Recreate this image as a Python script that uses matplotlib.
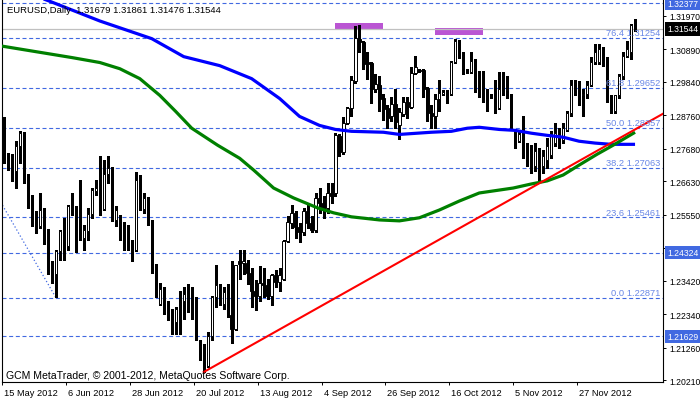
#!/usr/bin/env python3
"""
EURUSD daily chart, MetaTrader style
Candles, two moving averages, trendline and Fibonacci levels
"""

import numpy as np
import matplotlib
matplotlib.use("Agg")
import matplotlib.pyplot as plt
from matplotlib.patches import Rectangle
from matplotlib.transforms import blended_transform_factory, ScaledTranslation

# Header values
symbol = "EURUSD,Daily"
last_ohlc = [1.31679, 1.31861, 1.31476, 1.31544]

# Daily candles, one per trading day from 15 May 2012
opens = [
    1.2824, 1.2728, 1.2715, 1.2696, 1.2776, 1.2818, 1.2683, 1.2583, 1.2535, 1.2519,
    1.2570, 1.2506, 1.2371, 1.2365, 1.2439, 1.2503, 1.2455, 1.2583, 1.2561, 1.2641,
    1.2481, 1.2503, 1.2558, 1.2631, 1.2696, 1.2574, 1.2686, 1.2705, 1.2538, 1.2551,
    1.2506, 1.2493, 1.2471, 1.2442, 1.2680, 1.2574, 1.2609, 1.2532, 1.2394, 1.2266,
    1.2314, 1.2266, 1.2246, 1.2208, 1.2278, 1.2278, 1.2298, 1.2294, 1.2285, 1.2128,
    1.2128, 1.2067, 1.2163, 1.2288, 1.2310, 1.2266, 1.2310, 1.2230, 1.2185, 1.2407,
    1.2400, 1.2400, 1.2368, 1.2310, 1.2294, 1.2336, 1.2327, 1.2294, 1.2359, 1.2339,
    1.2346, 1.2471, 1.2529, 1.2561, 1.2516, 1.2500, 1.2567, 1.2529, 1.2506, 1.2609,
    1.2593, 1.2577, 1.2625, 1.2625, 1.2808, 1.2757, 1.2850, 1.2898, 1.2985, 1.3123,
    1.3113, 1.3049, 1.3046, 1.2962, 1.2972, 1.2930, 1.2898, 1.2872, 1.2911, 1.2843,
    1.2879, 1.2917, 1.2901, 1.3013, 1.3023, 1.3023, 1.2965, 1.2882, 1.2875, 1.2927,
    1.2943, 1.2952, 1.2943, 1.3049, 1.3116, 1.3062, 1.3020, 1.3017, 1.3052, 1.2985,
    1.2972, 1.2936, 1.2940, 1.2936, 1.2898, 1.2959, 1.2956, 1.2940, 1.2827, 1.2792,
    1.2818, 1.2770, 1.2747, 1.2712, 1.2744, 1.2712, 1.2731, 1.2747, 1.2786, 1.2818,
    1.2795, 1.2827, 1.2882, 1.2972, 1.2969, 1.2940, 1.2946, 1.2972, 1.3049, 1.3049,
    1.3091, 1.3062, 1.2940, 1.2888, 1.2940, 1.3001, 1.3068, 1.3081, 1.31679,
]
highs = [
    1.2869, 1.2753, 1.2750, 1.2792, 1.2824, 1.2822, 1.2685, 1.2619, 1.2567, 1.2625,
    1.2577, 1.2508, 1.2407, 1.2442, 1.2506, 1.2545, 1.2587, 1.2625, 1.2583, 1.2667,
    1.2522, 1.2577, 1.2641, 1.2667, 1.2744, 1.2731, 1.2744, 1.2708, 1.2583, 1.2555,
    1.2532, 1.2522, 1.2474, 1.2692, 1.2683, 1.2625, 1.2612, 1.2538, 1.2396, 1.2333,
    1.2320, 1.2278, 1.2249, 1.2256, 1.2310, 1.2320, 1.2330, 1.2320, 1.2288, 1.2150,
    1.2137, 1.2176, 1.2294, 1.2394, 1.2330, 1.2320, 1.2330, 1.2407, 1.2394, 1.2442,
    1.2442, 1.2410, 1.2384, 1.2343, 1.2388, 1.2384, 1.2346, 1.2362, 1.2375, 1.2384,
    1.2474, 1.2551, 1.2587, 1.2567, 1.2529, 1.2577, 1.2587, 1.2551, 1.2625, 1.2641,
    1.2615, 1.2657, 1.2657, 1.2818, 1.2814, 1.2869, 1.2901, 1.3001, 1.3164, 1.3168,
    1.3116, 1.3081, 1.3049, 1.3010, 1.3004, 1.2946, 1.2908, 1.2936, 1.2962, 1.2898,
    1.2936, 1.2936, 1.3030, 1.3068, 1.3026, 1.3025, 1.2967, 1.2908, 1.2946, 1.2988,
    1.2956, 1.2956, 1.3052, 1.3123, 1.3120, 1.3081, 1.3026, 1.3081, 1.3058, 1.3020,
    1.3020, 1.2962, 1.2946, 1.2988, 1.3017, 1.3017, 1.3004, 1.2946, 1.2830, 1.2824,
    1.2875, 1.2786, 1.2779, 1.2786, 1.2770, 1.2763, 1.2802, 1.2824, 1.2850, 1.2834,
    1.2850, 1.2888, 1.2988, 1.2988, 1.2985, 1.2962, 1.2985, 1.3065, 1.3107, 1.3107,
    1.3097, 1.3064, 1.2942, 1.2940, 1.3010, 1.3081, 1.3116, 1.3171, 1.31861,
]
lows = [
    1.2721, 1.2699, 1.2664, 1.2641, 1.2721, 1.2657, 1.2577, 1.2519, 1.2497, 1.2513,
    1.2461, 1.2362, 1.2336, 1.2288, 1.2410, 1.2410, 1.2442, 1.2555, 1.2436, 1.2474,
    1.2442, 1.2474, 1.2545, 1.2619, 1.2555, 1.2570, 1.2657, 1.2535, 1.2519, 1.2474,
    1.2442, 1.2442, 1.2407, 1.2439, 1.2570, 1.2561, 1.2522, 1.2368, 1.2288, 1.2262,
    1.2233, 1.2214, 1.2169, 1.2169, 1.2169, 1.2217, 1.2240, 1.2217, 1.2150, 1.2086,
    1.2047, 1.2063, 1.2150, 1.2256, 1.2262, 1.2249, 1.2224, 1.2140, 1.2182, 1.2346,
    1.2362, 1.2330, 1.2256, 1.2246, 1.2278, 1.2288, 1.2282, 1.2262, 1.2320, 1.2310,
    1.2343, 1.2468, 1.2513, 1.2481, 1.2468, 1.2490, 1.2513, 1.2500, 1.2500, 1.2561,
    1.2545, 1.2561, 1.2593, 1.2615, 1.2744, 1.2750, 1.2847, 1.2872, 1.2981, 1.3081,
    1.3026, 1.2994, 1.2914, 1.2952, 1.2891, 1.2859, 1.2834, 1.2856, 1.2834, 1.2798,
    1.2875, 1.2866, 1.2898, 1.3010, 1.3017, 1.2936, 1.2856, 1.2834, 1.2834, 1.2888,
    1.2940, 1.2914, 1.2940, 1.3046, 1.3062, 1.3010, 1.3013, 1.3013, 1.2952, 1.2936,
    1.2917, 1.2891, 1.2930, 1.2882, 1.2895, 1.2940, 1.2930, 1.2827, 1.2770, 1.2789,
    1.2737, 1.2712, 1.2689, 1.2696, 1.2667, 1.2689, 1.2705, 1.2737, 1.2776, 1.2770,
    1.2786, 1.2824, 1.2875, 1.2940, 1.2908, 1.2875, 1.2930, 1.2969, 1.3042, 1.3042,
    1.3036, 1.2920, 1.2882, 1.2882, 1.2930, 1.2994, 1.3065, 1.3058, 1.31476,
]
closes = [
    1.2728, 1.2712, 1.2696, 1.2776, 1.2818, 1.2680, 1.2583, 1.2535, 1.2519, 1.2570,
    1.2503, 1.2368, 1.2362, 1.2439, 1.2503, 1.2455, 1.2583, 1.2561, 1.2519, 1.2481,
    1.2506, 1.2558, 1.2635, 1.2641, 1.2574, 1.2686, 1.2705, 1.2545, 1.2570, 1.2506,
    1.2490, 1.2471, 1.2442, 1.2667, 1.2574, 1.2609, 1.2526, 1.2394, 1.2291, 1.2314,
    1.2266, 1.2249, 1.2208, 1.2249, 1.2272, 1.2298, 1.2288, 1.2285, 1.2163, 1.2121,
    1.2063, 1.2163, 1.2288, 1.2327, 1.2266, 1.2304, 1.2230, 1.2185, 1.2391, 1.2397,
    1.2404, 1.2368, 1.2310, 1.2294, 1.2336, 1.2327, 1.2294, 1.2359, 1.2339, 1.2359,
    1.2471, 1.2532, 1.2561, 1.2516, 1.2500, 1.2567, 1.2529, 1.2506, 1.2609, 1.2593,
    1.2577, 1.2625, 1.2615, 1.2811, 1.2757, 1.2850, 1.2898, 1.2988, 1.3126, 1.3113,
    1.3042, 1.3042, 1.2962, 1.2978, 1.2927, 1.2895, 1.2866, 1.2911, 1.2853, 1.2885,
    1.2917, 1.2901, 1.3013, 1.3030, 1.3020, 1.2962, 1.2882, 1.2875, 1.2927, 1.2949,
    1.2952, 1.2949, 1.3049, 1.3116, 1.3065, 1.3017, 1.3017, 1.3052, 1.2981, 1.2972,
    1.2930, 1.2933, 1.2936, 1.2898, 1.2959, 1.2956, 1.2962, 1.2834, 1.2792, 1.2814,
    1.2763, 1.2744, 1.2712, 1.2760, 1.2721, 1.2744, 1.2776, 1.2811, 1.2818, 1.2795,
    1.2834, 1.2882, 1.2972, 1.2965, 1.2940, 1.2946, 1.2972, 1.3049, 1.3081, 1.3091,
    1.3058, 1.2940, 1.2920, 1.2940, 1.3004, 1.3068, 1.3091, 1.3166, 1.31544,
]

# Moving averages, read at a few bars (bar index, price)
ma_slow_bars = [0, 12, 24, 37, 45, 54, 62, 69, 74, 79, 83, 87, 95, 99, 107, 112,
                116, 119, 124, 128, 132, 136, 140, 144, 148, 152, 158]
ma_slow_vals = [1.3299, 1.3241, 1.3180, 1.3123, 1.3065, 1.3036, 1.2994, 1.2930,
                1.2872, 1.2843, 1.2830, 1.2824, 1.2821, 1.2814, 1.2821, 1.2824,
                1.2834, 1.2837, 1.2830, 1.2827, 1.2818, 1.2811, 1.2805, 1.2792,
                1.2786, 1.2782, 1.2782]
ma_fast_bars = [-1, 17, 24, 29, 34, 39, 43, 47, 53.5, 59, 62.5, 67.5, 72.5, 78.5,
                82.5, 87, 94, 99, 104, 109, 114, 119, 127.5, 132, 136, 140, 144,
                148.5, 152.5, 158]
ma_fast_vals = [1.3100, 1.3062, 1.3046, 1.3026, 1.2994, 1.2940, 1.2888, 1.2834,
                1.2779, 1.2737, 1.2699, 1.2641, 1.2609, 1.2577, 1.2561, 1.2548,
                1.2538, 1.2535, 1.2545, 1.2570, 1.2599, 1.2625, 1.2641, 1.2654,
                1.2664, 1.2683, 1.2715, 1.2750, 1.2779, 1.2821]

# Trendline anchors (bar, price), drawn as a ray to the right
trend_bars = [50, 150]
trend_vals = [1.2047, 1.2772]

# Fibonacci retracement
fib_anchor_bars = [-36.2, 13]
fib_anchor_vals = [1.33846, 1.22871]
fib_levels = [0.0, 23.6, 38.2, 50.0, 61.8, 76.4]
fib_prices = [1.22871, 1.25461, 1.27063, 1.28357, 1.29652, 1.31254]

# Horizontal lines and the current bid
hline_prices = [1.32377, 1.24324, 1.21629]
bid_price = 1.31544

# Rectangles marking the two tops (bar from, bar to, price low, price high)
rect_bar_from = [83, 108]
rect_bar_to = [95, 120]
rect_low = [1.3152, 1.3136]
rect_high = [1.3174, 1.3158]

# Axis labels
price_ticks = [1.31970, 1.30890, 1.29840, 1.28760, 1.27680, 1.26630,
               1.25550, 1.24470, 1.23420, 1.22340, 1.21260, 1.20210]
date_bars = [0, 16, 32, 48, 64, 80, 96, 112, 128, 144]
date_labels = ["15 May 2012", "6 Jun 2012", "28 Jun 2012", "20 Jul 2012",
               "13 Aug 2012", "4 Sep 2012", "26 Sep 2012", "16 Oct 2012",
               "5 Nov 2012", "27 Nov 2012"]

LINE_BLUE = "#4169E1"
FIB_TEXT = "#6a88e6"
FONT = "Liberation Sans"


def draw_candles(ax):
    o = np.array(opens)
    h = np.array(highs)
    l = np.array(lows)
    c = np.array(closes)
    idx = np.arange(len(o))
    up = c >= o

    # Wicks, crisp like the terminal draws them
    ax.vlines(idx, l, h, color="black", lw=0.75, zorder=3, antialiased=False)

    bottom = np.minimum(o, c)
    height = np.maximum(np.abs(c - o), 0.00002)
    ax.bar(idx[up], height[up], bottom=bottom[up], width=0.58,
           facecolor="white", edgecolor="black", lw=0.7, zorder=4)
    ax.bar(idx[~up], height[~up], bottom=bottom[~up], width=0.58,
           facecolor="black", edgecolor="black", lw=0.7, zorder=4)


def draw_objects(ax, x_max):
    right = blended_transform_factory(ax.transAxes, ax.transData)
    dash = (0, (3.6, 2.4))

    # Fibonacci levels
    for lvl, p in zip(fib_levels, fib_prices):
        ax.axhline(p, color=LINE_BLUE, lw=0.8, ls=dash, zorder=2)
        ax.text(1 - 3 / 661, p + 0.0002, f"{lvl:.1f} {p:.5f}", transform=right,
                ha="right", va="bottom", fontsize=6.7, color=FIB_TEXT,
                family=FONT, zorder=6)
    ax.plot(fib_anchor_bars, fib_anchor_vals, color=LINE_BLUE, lw=0.9,
            ls=(0, (1, 1.8)), zorder=2)

    # User horizontal lines
    for p in hline_prices:
        ax.axhline(p, color=LINE_BLUE, lw=0.8, ls=dash, zorder=2)

    # Bid line
    ax.axhline(bid_price, color="#c0c0c0", lw=0.9, zorder=2.5)

    # Rectangles
    for b0, b1, lo, hi in zip(rect_bar_from, rect_bar_to, rect_low, rect_high):
        ax.add_patch(Rectangle((b0, lo), b1 - b0, hi - lo, facecolor="#BA55D3",
                               edgecolor="none", zorder=1))

    # Moving averages
    ax.plot(ma_slow_bars, ma_slow_vals, color="#0000FF", lw=2.3, zorder=5,
            solid_capstyle="butt")
    ax.plot(ma_fast_bars, ma_fast_vals, color="#008000", lw=2.3, zorder=5,
            solid_capstyle="butt")

    # Trendline ray
    slope = (trend_vals[1] - trend_vals[0]) / (trend_bars[1] - trend_bars[0])
    xs = [trend_bars[0], x_max]
    ys = [trend_vals[0], trend_vals[0] + slope * (x_max - trend_bars[0])]
    ax.plot(xs, ys, color="#FF0000", lw=1.5, zorder=5)


def price_box(ax, price, face):
    tr = blended_transform_factory(ax.transAxes, ax.transData)
    ax.text(1 + 4 / 661, price, f"{price:.5f}", transform=tr, ha="left",
            va="center", fontsize=6.2, color="white", family=FONT,
            bbox=dict(boxstyle="square,pad=0.25", fc=face, ec="none"),
            clip_on=False, zorder=10)


def main():
    fig = plt.figure(figsize=(7.0, 4.02), dpi=100)
    fig.patch.set_facecolor("white")
    ax = fig.add_axes([2 / 700, 19 / 402, 661 / 700, 383 / 402])
    ax.set_facecolor("white")

    x_min, x_max = -0.25, 165.0
    ax.set_xlim(x_min, x_max)
    ax.set_ylim(1.2015, 1.3251)

    draw_candles(ax)
    draw_objects(ax, x_max)

    # Price axis on the right
    ax.yaxis.tick_right()
    ax.set_yticks(price_ticks)
    ax.set_yticklabels([f"{p:.5f}" for p in price_ticks])
    ax.tick_params(axis="y", length=2.5, width=0.7, pad=2.2, labelsize=6.2,
                   colors="black")

    # Date axis
    ax.set_xticks([b - 0.5 for b in date_bars])
    ax.set_xticklabels(date_labels)
    ax.tick_params(axis="x", length=2.5, width=0.7, pad=1.5, labelsize=6.7)
    offset = ScaledTranslation(2 / 100, 0, fig.dpi_scale_trans)
    for lab in ax.get_xticklabels():
        lab.set_ha("left")
        lab.set_transform(lab.get_transform() + offset)
    for lab in ax.get_xticklabels() + ax.get_yticklabels():
        lab.set_family(FONT)

    for side in ["left", "bottom", "right"]:
        ax.spines[side].set_color("black")
        ax.spines[side].set_linewidth(0.8)
    ax.spines["top"].set_visible(False)

    # Price labels on the axis
    for p in hline_prices:
        price_box(ax, p, LINE_BLUE)
    price_box(ax, bid_price, "black")

    # Header and copyright
    header = symbol + "  " + " ".join(f"{v:.5f}" for v in last_ohlc)
    ax.text(5 / 661, 1 - 10.5 / 383, header, transform=ax.transAxes,
            ha="left", va="center", fontsize=6.8, family=FONT, zorder=7)
    ax.text(4 / 661, 6.5 / 383,
            "GCM MetaTrader, \u00a9 2001-2012, MetaQuotes Software Corp.",
            transform=ax.transAxes, ha="left", va="center", fontsize=7.6,
            family=FONT, zorder=7)

    fig.savefig("out.png", dpi=100, facecolor="white")


if __name__ == "__main__":
    main()
